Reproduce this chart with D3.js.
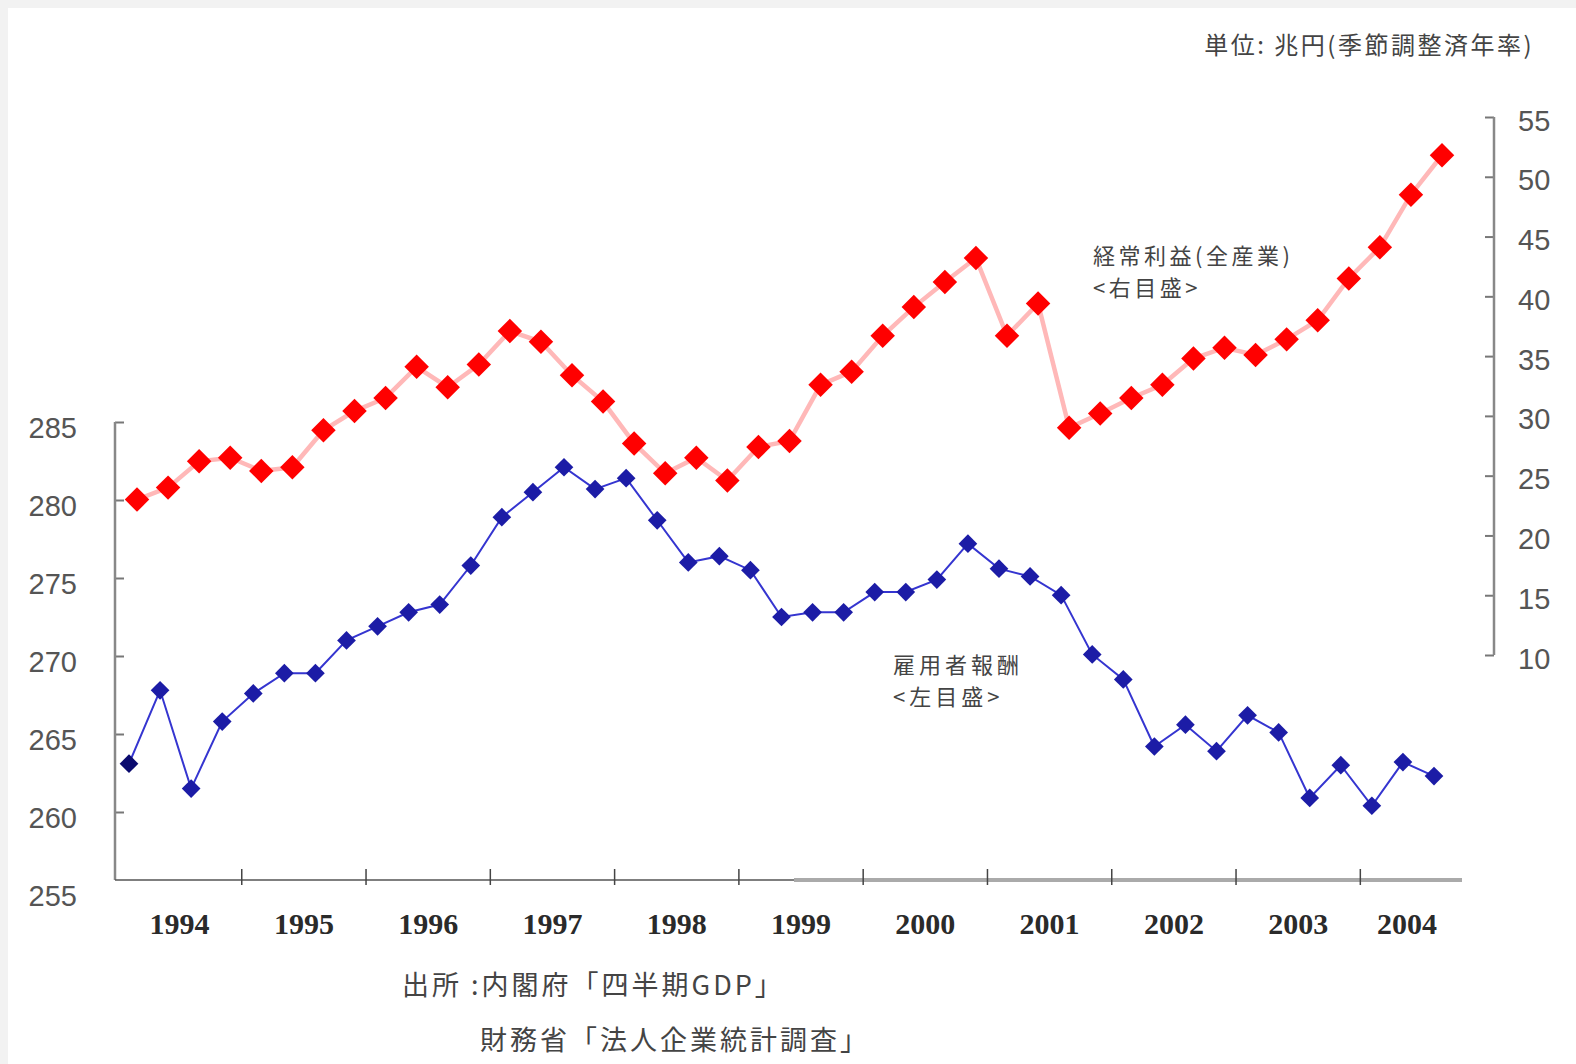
<!DOCTYPE html>
<html>
<head>
<meta charset="utf-8">
<script src="https://cdn.jsdelivr.net/npm/d3@7"></script>
<style>
  body { margin: 0; background: #f2f2f2; }
  svg { display: block; }
</style>
</head>
<body>
<div id="chart"></div>
<script>
// quarterly data, 1994Q1 .. 2004Q3
const years = ["1994", "1995", "1996", "1997", "1998", "1999", "2000", "2001", "2002", "2003", "2004"];
const quartersPerYear = [4, 4, 4, 4, 4, 4, 4, 4, 4, 4, 3];

// 雇用者報酬 (left axis, 兆円)
const compensation = [
  263.1, 267.8, 261.5, 265.8, 267.6, 268.9, 268.9, 271.0, 271.9, 272.8,
  273.3, 275.8, 278.9, 280.5, 282.1, 280.7, 281.4, 278.7, 276.0, 276.4,
  275.5, 272.5, 272.8, 272.8, 274.1, 274.1, 274.9, 277.2, 275.6, 275.1,
  273.9, 270.1, 268.5, 264.2, 265.6, 263.9, 266.2, 265.1, 260.9, 263.0,
  260.4, 263.2, 262.3
];

// 経常利益(全産業) (right axis, 兆円)
const profits = [
  23.0, 24.0, 26.2, 26.5, 25.4, 25.7, 28.8, 30.4, 31.5, 34.1,
  32.4, 34.3, 37.1, 36.2, 33.4, 31.2, 27.7, 25.2, 26.5, 24.6,
  27.4, 27.9, 32.6, 33.7, 36.7, 39.1, 41.2, 43.2, 36.7, 39.4,
  29.0, 30.2, 31.5, 32.6, 34.8, 35.7, 35.1, 36.4, 38.0, 41.5,
  44.1, 48.5, 51.8
];

const leftTicks = [255, 260, 265, 270, 275, 280, 285];
const rightTicks = [10, 15, 20, 25, 30, 35, 40, 45, 50, 55];

const width = 1576, height = 1064;
const jpFont = "'Noto Sans CJK JP', sans-serif";
const numFont = "'Liberation Sans', Arial, sans-serif";

const svg = d3.select("#chart").append("svg")
    .attr("width", width)
    .attr("height", height);

// white sheet with the thin grey frame on top/left
svg.append("rect")
    .attr("x", 8).attr("y", 8)
    .attr("width", width - 8).attr("height", height - 8)
    .attr("fill", "#fff");

const n = compensation.length;
const x = d3.scaleLinear().domain([0, n - 1]).range([133, 1438]);
const yL = d3.scaleLinear().domain([255, 285]).range([890, 422]);
const yR = d3.scaleLinear().domain([10, 55]).range([655, 117]);

const axisLeftX = 115, axisRightX = 1494, axisBottomY = 880;

// left axis
const gL = svg.append("g")
    .attr("transform", `translate(${axisLeftX},0)`)
    .call(d3.axisLeft(yL).tickValues(leftTicks).tickSize(-9).tickPadding(38).tickSizeOuter(0));
gL.select(".domain").remove();
gL.selectAll(".tick line").attr("stroke", "#777").attr("stroke-width", 2)
    .filter(d => d === 255).remove();
gL.selectAll(".tick text")
    .attr("dy", "0.55em")
    .attr("fill", "#555")
    .style("font-family", numFont)
    .style("font-size", "29px");
gL.append("line")
    .attr("x1", 0).attr("x2", 0)
    .attr("y1", yL(285)).attr("y2", axisBottomY)
    .attr("stroke", "#888").attr("stroke-width", 2.5);

// right axis
const gR = svg.append("g")
    .attr("transform", `translate(${axisRightX},0)`)
    .call(d3.axisRight(yR).tickValues(rightTicks).tickSize(-9).tickPadding(24).tickSizeOuter(0));
gR.select(".domain").remove();
gR.selectAll(".tick line").attr("stroke", "#777").attr("stroke-width", 2);
gR.selectAll(".tick text")
    .attr("dy", "0.45em")
    .attr("fill", "#555")
    .style("font-family", numFont)
    .style("font-size", "29px");
gR.append("line")
    .attr("x1", 0).attr("x2", 0)
    .attr("y1", yR(55)).attr("y2", yR(10))
    .attr("stroke", "#888").attr("stroke-width", 2.5);

// bottom axis (dark on the left, grey on the right as in the source)
svg.append("line")
    .attr("x1", axisLeftX).attr("x2", 794)
    .attr("y1", axisBottomY).attr("y2", axisBottomY)
    .attr("stroke", "#555").attr("stroke-width", 1.5);
svg.append("line")
    .attr("x1", 794).attr("x2", 1462)
    .attr("y1", axisBottomY).attr("y2", axisBottomY)
    .attr("stroke", "#aaa").attr("stroke-width", 4);

// year boundaries and labels
let start = 0;
const yearInfo = years.map((yr, i) => {
    const q = quartersPerYear[i];
    const info = { year: yr, mid: start + (q - 1) / 2, end: start + q - 0.5 };
    start += q;
    return info;
});

svg.selectAll(".year-tick")
    .data(yearInfo.slice(0, -1))
    .join("line")
    .attr("class", "year-tick")
    .attr("x1", d => x(d.end)).attr("x2", d => x(d.end))
    .attr("y1", axisBottomY - 11).attr("y2", axisBottomY + 5)
    .attr("stroke", "#444").attr("stroke-width", 1.5);

svg.selectAll(".year-label")
    .data(yearInfo)
    .join("text")
    .attr("class", "year-label")
    .attr("x", d => x(d.mid))
    .attr("y", 934)
    .attr("text-anchor", "middle")
    .attr("fill", "#2a2a2a")
    .style("font-family", "'Liberation Serif', 'Times New Roman', serif")
    .style("font-weight", "bold")
    .style("font-size", "30px")
    .text(d => d.year);

// diamonds
const diamond = (size) => d3.symbol().type(d3.symbolSquare).size(size)();

// profits line (right axis)
const redX = i => x(i) + 4;
svg.append("path")
    .datum(profits)
    .attr("fill", "none")
    .attr("stroke", "#ffb8b8")
    .attr("stroke-width", 4.5)
    .attr("d", d3.line().x((d, i) => redX(i)).y(d => yR(d)));

svg.selectAll(".red-pt")
    .data(profits)
    .join("path")
    .attr("class", "red-pt")
    .attr("transform", (d, i) => `translate(${redX(i)},${yR(d)}) rotate(45)`)
    .attr("d", diamond(300))
    .attr("fill", "#ff0000");

// compensation line (left axis)
const blueX = i => x(i) - 4;
svg.append("path")
    .datum(compensation)
    .attr("fill", "none")
    .attr("stroke", "#3535d0")
    .attr("stroke-width", 2)
    .attr("d", d3.line().x((d, i) => blueX(i)).y(d => yL(d)));

svg.selectAll(".blue-pt")
    .data(compensation)
    .join("path")
    .attr("class", "blue-pt")
    .attr("transform", (d, i) => `translate(${blueX(i)},${yL(d)}) rotate(45)`)
    .attr("d", diamond(175))
    .attr("fill", (d, i) => i === 0 ? "#0a0a6e" : "#1c1ca6");

// annotations, one text element per line
function label(lines, x0, y0, size, spacing, lineGap, anchor) {
    lines.forEach((l, i) => {
        svg.append("text")
            .attr("x", x0).attr("y", y0 + i * lineGap)
            .attr("text-anchor", anchor || "start")
            .attr("fill", "#444")
            .style("font-family", jpFont)
            .style("font-size", size + "px")
            .style("letter-spacing", spacing + "px")
            .text(l);
    });
}

label(["単位: 兆円(季節調整済年率)"], 1534, 54, 24, 2.5, 0, "end");
label(["経常利益(全産業)", "<右目盛>"], 1093, 264, 22, 3.5, 32);
label(["雇用者報酬", "<左目盛>"], 893, 673, 22, 4, 32);
label(["出所 :内閣府「四半期GDP」"], 402, 995, 27, 3, 0);
label(["財務省「法人企業統計調査」"], 480, 1050, 27, 3, 0);
</script>
</body>
</html>
